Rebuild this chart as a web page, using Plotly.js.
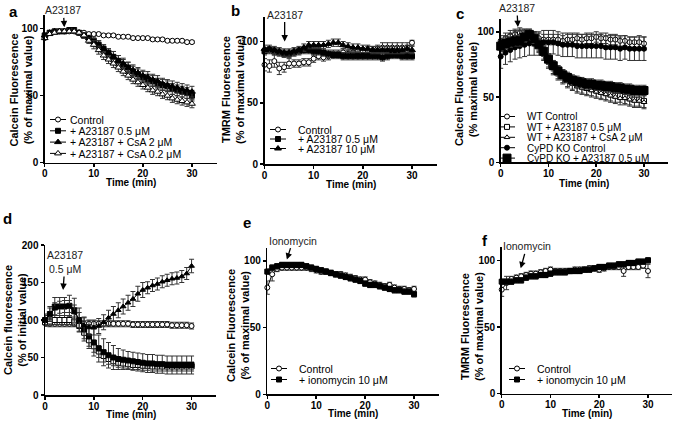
<!DOCTYPE html>
<html><head><meta charset="utf-8">
<script src="https://cdn.plot.ly/plotly-3.0.1.min.js"></script>
<style>html,body{margin:0;padding:0;background:#fff}#chart{width:675px;height:422px}</style>
</head><body><div id="chart"></div>
<script>
// ---------- data ----------
const time = [0,1,2,3,4,5,6,7,8,9,10,11,12,13,14,15,16,17,18,19,20,21,22,23,24,25,26,27,28,29,30];

// panel a (Calcein, % of maximal value)
const aControl    = [93,97,98,98,98,98,98,97,97,96,96,96,95,95,95,94,94,94,93,93,93,93,92,92,92,91,91,91,91,90,90];
const aControlErr = [1,1,1,1,1,1,1,1,1,1,1,1,1,1,1,1,1,1,1,1,1,1,1,1,1,1,1,1,1,1,1];
const aA23187     = [95,97,98,98,98,99,99,97,95,93,91,88,85,82,79,76,73,71,68,66,64,62,61,59,58,57,55,54,53,52,50];
const aA23187Err  = [1,1,1,1,1,1,1,1,2,2,3,3,3,3,4,4,4,4,4,4,4,4,4,4,4,4,4,4,4,4,4];
const aCsA2       = [95,97,98,98,98,99,99,97,95,93,90,88,85,82,79,76,74,71,69,67,65,64,62,61,59,58,57,56,55,54,53];
const aCsA2Err    = [1,1,1,1,1,1,1,1,2,2,3,3,3,3,4,4,4,4,4,4,4,4,4,4,4,4,4,4,4,4,4];
const aCsA02      = [93,96,97,98,98,98,98,97,95,91,88,84,80,77,74,71,68,65,62,60,58,56,54,53,51,50,48,47,46,45,44];
const aCsA02Err   = [1,1,1,1,1,1,1,1,2,2,3,3,3,3,3,3,3,3,3,3,3,3,3,3,3,3,3,3,3,3,3];

// panel b (TMRM, % of maximal value)
const bControl    = [81,80,84,78,79,82,82,82,83,83,86,88,87,88,90,90,91,90,91,92,92,93,93,94,95,95,95,95,95,95,99];
const bControlErr = [5,5,5,5,4,4,3,3,3,3,3,3,3,3,3,3,3,3,3,3,3,3,3,3,4,4,4,4,4,4,2];
const bA05        = [92,93,92,91,90,90,91,92,93,93,92,92,91,90,89,89,88,88,88,88,88,88,88,88,87,88,89,89,88,88,88];
const bA05Err     = [3,3,3,3,3,3,3,3,3,3,3,3,3,3,3,3,3,3,3,3,3,3,3,3,3,3,3,3,3,3,3];
const bA10        = [94,94,93,92,91,91,92,93,95,97,97,97,97,98,99,99,97,96,95,95,94,94,93,93,93,93,93,93,93,94,93];
const bA10Err     = [3,3,3,3,3,3,3,3,3,3,3,3,3,3,3,3,3,3,3,3,3,3,3,3,3,3,3,3,3,3,3];

// panel c (Calcein, % maximal value)
const cWTControl     = [93,95,97,98,99,97,96,96,95,94,94,94,94,93,94,94,95,94,95,95,96,95,95,94,94,93,93,92,92,92,91];
const cWTControlErr  = [4,4,4,4,4,4,4,4,4,4,4,4,4,4,4,4,4,4,4,4,4,4,4,4,4,4,4,4,4,5,5];
const cWTA23187      = [88,91,93,95,96,97,97,95,90,84,78,73,69,66,63,61,59,58,57,56,55,54,53,52,51,51,50,49,48,48,47];
const cWTA23187Err   = [5,5,5,5,5,5,5,5,5,5,5,5,5,5,5,5,5,5,5,5,5,5,5,5,5,5,5,5,5,5,5];
const cWTCsA         = [90,92,94,96,97,97,96,94,89,83,77,72,68,65,62,60,58,57,56,55,54,53,52,51,50,49,49,48,47,47,46];
const cWTCsAErr      = [5,5,5,5,5,5,5,5,5,5,5,5,5,5,5,5,5,5,5,5,5,5,5,5,5,5,5,5,5,5,5];
const cKOControl     = [81,84,86,88,89,90,91,91,91,92,92,92,91,90,90,90,89,89,89,89,89,89,88,88,88,87,88,87,87,87,87];
const cKOControlErr  = [9,9,9,9,9,9,9,9,9,9,9,9,9,9,9,9,9,9,9,9,9,9,9,9,9,9,9,9,9,9,9];
const cKOA23187      = [89,91,92,93,93,96,98,95,90,85,79,74,70,67,65,63,62,61,60,60,59,59,58,58,57,57,56,56,55,55,55];
const cKOA23187Err   = [4,4,4,4,4,4,4,4,4,4,4,4,4,4,4,4,4,4,4,4,4,4,4,4,4,4,4,4,4,4,4];

// panel d (Calcein, % of initial value)
const dCircle      = [96,95,95,95,95,95,95,95,95,95,95,95,95,95,95,95,95,95,94,94,94,94,94,94,94,94,93,93,93,93,92];
const dCircleErr   = [4,4,4,4,4,4,4,4,4,4,4,4,4,4,4,4,4,4,4,4,4,4,4,4,4,4,4,4,4,4,4];
const dSquare      = [100,108,118,118,118,119,113,100,88,78,70,62,57,53,50,48,47,46,45,44,43,42,42,41,41,40,40,40,40,40,40];
const dSquareErr   = [8,10,12,12,12,14,16,16,16,16,18,18,18,17,16,14,13,12,12,12,12,12,12,12,12,12,12,12,12,12,12];
const dOpenSquare  = [97,98,100,100,100,100,98,92,83,73,65,58,52,48,45,43,42,41,40,40,39,39,38,38,38,38,38,38,38,38,38];
const dOpenSquareErr=[5,5,6,6,6,6,6,7,8,8,8,8,8,7,6,6,6,6,6,6,6,6,6,6,6,6,6,6,6,6,6];
const dTriangle    = [100,108,115,117,118,118,110,100,93,90,90,92,97,103,108,113,118,123,128,135,140,143,146,148,151,153,155,156,158,162,172];
const dTriangleErr = [6,8,8,8,8,8,10,10,10,10,10,10,10,10,10,10,10,10,10,10,10,8,8,8,8,8,8,8,8,8,9];

// panel e (Calcein, % of maximal value)
const eControl     = [80,90,94,95,95,95,95,95,95,94,93,92,92,91,90,90,89,88,87,86,86,84,83,82,81,82,80,79,79,78,79];
const eControlErr  = [5,5,2,2,2,2,2,2,2,2,2,2,2,2,2,2,2,2,2,2,2,2,2,2,2,2,2,2,2,2,2];
const eIono        = [92,95,96,97,97,97,97,97,96,95,94,93,92,91,90,89,88,87,86,85,83,82,82,81,80,79,78,78,77,77,75];
const eIonoErr     = [2,2,2,2,2,2,2,2,2,2,2,2,2,2,2,2,2,2,2,2,2,2,2,2,2,2,2,2,2,2,2];

// panel f (TMRM, % of maximal value)
const fControl     = [78,83,86,87,88,89,90,90,91,92,93,92,92,92,92,93,93,93,94,94,93,94,95,95,95,92,95,95,95,96,92];
const fControlErr  = [5,5,2,2,2,2,2,2,2,2,2,2,2,2,2,2,2,2,2,2,2,2,2,2,2,4,2,2,2,2,5];
const fIono        = [84,84,84,85,85,87,88,88,89,89,90,91,91,91,92,92,92,93,93,94,95,95,96,96,97,97,98,98,99,99,100];
const fIonoErr     = [2,2,2,2,2,2,2,2,2,2,2,2,2,2,2,2,2,2,2,2,2,2,2,2,2,2,2,2,2,2,2];

const xTicks = [0,10,20,30];

// ---------- styling helpers ----------
const F = 'Arial, "Liberation Sans", Helvetica, sans-serif';
const W = 675, H = 422;
const px = v => v / W;
const py = v => 1 - v / H;

function trace(y, err, name, sym, filled, size, n, leg) {
  return {
    x: time, y: y, name: name, type: 'scatter', mode: 'lines+markers',
    xaxis: 'x' + (n === 1 ? '' : n), yaxis: 'y' + (n === 1 ? '' : n),
    line: {color: 'black', width: 1},
    marker: {symbol: sym, size: size, color: filled ? 'black' : 'white', line: {color: 'black', width: 1}},
    error_y: {type: 'data', array: err, visible: true, color: '#333', thickness: 1, width: 2.5},
    cliponaxis: false,
    showlegend: !!leg, legend: leg || 'legend'
  };
}

const data = [
  trace(aControl, aControlErr, 'Control', 'circle', false, 5, 1, 'legend'),
  trace(aA23187, aA23187Err, '+ A23187 0.5 μM', 'square', true, 5, 1, 'legend'),
  trace(aCsA2, aCsA2Err, '+ A23187 + CsA 2 μM', 'triangle-up', true, 6, 1, 'legend'),
  trace(aCsA02, aCsA02Err, '+ A23187 + CsA 0.2 μM', 'triangle-up', false, 6, 1, 'legend'),

  trace(bControl, bControlErr, 'Control', 'circle', false, 5, 2, 'legend2'),
  trace(bA05, bA05Err, '+ A23187 0.5 μM', 'square', true, 5, 2, 'legend2'),
  trace(bA10, bA10Err, '+ A23187 10 μM', 'triangle-up', true, 6, 2, 'legend2'),

  trace(cWTControl, cWTControlErr, 'WT Control', 'circle', false, 5, 3, 'legend3'),
  trace(cWTA23187, cWTA23187Err, 'WT + A23187 0.5 μM', 'square', false, 5, 3, 'legend3'),
  trace(cWTCsA, cWTCsAErr, 'WT + A23187 + CsA 2 μM', 'triangle-up', false, 5, 3, 'legend3'),
  trace(cKOControl, cKOControlErr, 'CyPD KO Control', 'circle', true, 5, 3, 'legend3'),
  trace(cKOA23187, cKOA23187Err, 'CyPD KO + A23187 0.5 μM', 'square', true, 8, 3, 'legend3'),

  trace(dCircle, dCircleErr, 'Control', 'circle', false, 5, 4, null),
  trace(dOpenSquare, dOpenSquareErr, 'Series 2', 'square', false, 5, 4, null),
  trace(dSquare, dSquareErr, 'Series 3', 'square', true, 5, 4, null),
  trace(dTriangle, dTriangleErr, 'Series 4', 'triangle-up', true, 5, 4, null),

  trace(eControl, eControlErr, 'Control', 'circle', false, 5, 5, 'legend4'),
  trace(eIono, eIonoErr, '+ ionomycin 10 μM', 'square', true, 5, 5, 'legend4'),

  trace(fControl, fControlErr, 'Control', 'circle', false, 5, 6, 'legend5'),
  trace(fIono, fIonoErr, '+ ionomycin 10 μM', 'square', true, 5, 6, 'legend5')
];

// panel boxes in pixels: [left, right, top, bottom, ymax, yticks, xTitleY]
const panels = [
  [44.7, 216.5, 15.3, 162.7, 110, [0,50,100], 182],
  [264.5, 436.6, 17, 164, 120, [0,50,100], 184.3],
  [500.7, 667.9, 18.7, 162.3, 110, [0,50,100], 183.3],
  [45, 216, 245, 395, 200, [0,50,100,150,200], 414],
  [267.3, 438.5, 247.6, 394.3, 110, [0,50,100], 413.3],
  [501.7, 672.4, 247, 393.7, 110, [0,50,100], 413.3]
];

const tickFont = {family: F, size: 10, color: 'black', weight: 'bold'};
const layout = {
  width: W, height: H, margin: {l: 0, r: 0, t: 0, b: 0},
  paper_bgcolor: 'white', plot_bgcolor: 'white',
  font: {family: F, color: 'black', size: 10.5},
  annotations: [], showlegend: true
};
panels.forEach((p, i) => {
  const n = i + 1, s = n === 1 ? '' : n;
  layout['xaxis' + s] = {
    domain: [px(p[0]), px(p[1])], anchor: 'y' + s, range: [0, 35],
    tickvals: xTicks, ticktext: xTicks.map(String),
    showline: true, linecolor: 'black', linewidth: 1.5, ticks: 'outside', ticklen: 3, tickwidth: 1.5, tickcolor: 'black',
    showgrid: false, zeroline: false, tickfont: tickFont, automargin: false, ticklabelstandoff: -2
  };
  layout['yaxis' + s] = {
    domain: [py(p[3]), py(p[2])], anchor: 'x' + s, range: [0, p[4]],
    tickvals: p[5], ticktext: p[5].map(String),
    showline: true, linecolor: 'black', linewidth: 1.5, ticks: 'outside', ticklen: 3, tickwidth: 1.5, tickcolor: 'black',
    showgrid: false, zeroline: false, tickfont: tickFont, automargin: false
  };
  // x-axis title
  layout.annotations.push({
    text: 'Time (min)', xref: 'paper', yref: 'paper', x: px((p[0] + p[1]) / 2), y: py(p[6]),
    xanchor: 'center', yanchor: 'middle', showarrow: false,
    font: {family: F, size: 10, weight: 'bold', color: 'black'}
  });
});

// y-axis titles (as rotated text)
const yTitles = [
  ['Calcein Fluorescence<br>(% of maximal value)', 20.5, 90],
  ['TMRM Fluorescence<br>(% of maximal value)', 233, 90],
  ['Calcein Fluorescence<br>(% maximal value)', 466, 90],
  ['Calcein fluorescence<br>(% of initial value)', 15, 320],
  ['Calcein Fluorescence<br>(% of maximal value)', 238, 325],
  ['TMRM Fluorescence<br>(% of maximal value)', 472, 327]
];
yTitles.forEach(t => layout.annotations.push({
  text: t[0], xref: 'paper', yref: 'paper', x: px(t[1]), y: py(t[2]),
  xanchor: 'center', yanchor: 'middle', textangle: -90, showarrow: false,
  font: {family: F, size: 11, weight: 'bold', color: 'black'}
}));

// panel letters
[['a', 13, 12], ['b', 235, 10], ['c', 460, 13], ['d', 7, 218], ['e', 247, 223], ['f', 485, 240]].forEach(l =>
  layout.annotations.push({text: l[0], xref: 'paper', yref: 'paper', x: px(l[1]), y: py(l[2]),
    xanchor: 'center', yanchor: 'middle', showarrow: false, font: {family: F, size: 15, weight: 'bold', color: 'black'}}));

// treatment arrows
const arrows = [
  ['A23187', 1, 4, 101, -1, -17],
  ['A23187', 2, 4.1, 100, 0, -27],
  ['A23187', 3, 3.6, 103.6, -1, -19],
  ['A23187<br>0.5 μM', 4, 3.7, 140, 2, -28],
  ['Ionomycin', 5, 4, 101, 6, -19],
  ['Ionomycin', 6, 3.9, 94, 6, -22]
];
arrows.forEach(a => {
  const s = a[1] === 1 ? '' : a[1];
  layout.annotations.push({text: a[0], xref: 'x' + s, yref: 'y' + s, x: a[2], y: a[3], ax: a[4], ay: a[5],
    showarrow: true, arrowhead: 2, arrowsize: 1, arrowwidth: 1.3, arrowcolor: 'black',
    font: {family: F, size: 10.5, color: '#222'}});
});

// legends
const legBase = {bgcolor: 'rgba(0,0,0,0)', borderwidth: 0, xanchor: 'left', yanchor: 'top',
  font: {family: F, size: 10.5, color: 'black'}, itemwidth: 30, tracegroupgap: 0, traceorder: 'normal'};
layout.legend  = Object.assign({}, legBase, {x: px(38), y: py(105)});
layout.legend2 = Object.assign({}, legBase, {x: px(258), y: py(115)});
layout.legend3 = Object.assign({}, legBase, {x: px(487), y: py(102), font: {family: F, size: 10, color: 'black'}});
layout.legend4 = Object.assign({}, legBase, {x: px(259), y: py(354)});
layout.legend5 = Object.assign({}, legBase, {x: px(497), y: py(354)});

const spacing = {legend: 11.3, legend2: 9.5, legend3: 10.4, legend4: 11, legend5: 11};

Plotly.newPlot('chart', data, layout, {staticPlot: true, displayModeBar: false}).then(gd => {
  Object.keys(spacing).forEach(id => {
    const lg = gd.querySelector('g.' + id);
    if (!lg) return;
    const items = lg.querySelectorAll('g.traces');
    let y0 = null;
    items.forEach((it, i) => {
      const tr = it.getAttribute('transform') || '';
      const m = /translate\(\s*([-\d.e]+)[\s,]+([-\d.e]+)\s*\)/.exec(tr);
      if (!m) return;
      if (y0 === null) y0 = +m[2];
      it.setAttribute('transform', 'translate(' + m[1] + ',' + (y0 + i * spacing[id]) + ')');
      it.querySelectorAll('.legendlines path').forEach(p => p.setAttribute('d', 'M12,0h16'));
      it.querySelectorAll('text.legendtext').forEach(t => {
        t.setAttribute('x', 32);
        t.querySelectorAll('tspan.line').forEach(ts => ts.setAttribute('x', 32));
      });
    });
  });
});
</script></body></html>
